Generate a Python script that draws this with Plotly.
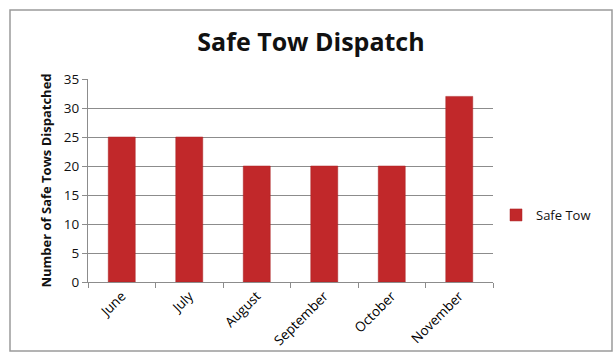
import plotly.graph_objects as go

months = ["June", "July", "August", "September", "October", "November"]
safe_tow = [25, 25, 20, 20, 20, 32]
y_ticks = [0, 5, 10, 15, 20, 25, 30, 35]

W, H = 614, 364
L, R, T, B = 88, 121, 79, 82
pw, ph = W - L - R, H - T - B

def px(x):
    return (x - L) / pw

def py(y):
    return (H - B - y) / ph

fig = go.Figure()
fig.add_trace(go.Bar(
    x=months, y=safe_tow, name="Safe Tow",
    marker=dict(color="#c1282a", line=dict(color="#a82224", width=0.5)),
    width=0.4,
))

fig.update_layout(
    width=W, height=H,
    margin=dict(l=L, r=R, t=T, b=B, autoexpand=False),
    paper_bgcolor="white", plot_bgcolor="white",
    font=dict(family="Open Sans", color="#111111", size=12),
    title=dict(text="<b>Safe Tow Dispatch</b>", x=px(311), xref="paper", xanchor="center",
               y=1 - 42 / H, yanchor="middle", font=dict(size=25, family="Open Sans")),
    showlegend=True,
    legend=dict(x=px(496), y=py(215), xanchor="left", yanchor="middle",
                font=dict(size=13), bgcolor="rgba(0,0,0,0)", itemwidth=30),
    bargap=0.6,
)
fig.update_yaxes(
    range=[0, 35], tickvals=y_ticks, showgrid=True, gridcolor="#8c8c8c", gridwidth=1,
    showline=True, linecolor="#8c8c8c", ticks="outside", ticklen=5, tickcolor="#8c8c8c",
    tickfont=dict(size=13.5), zeroline=False, automargin=False,
    title=dict(text="<b>Number of Safe Tows Dispatched</b>", font=dict(size=13), standoff=9),
)
fig.update_xaxes(
    showline=True, linecolor="#8c8c8c", ticks="outside", ticklen=5, tickcolor="#8c8c8c",
    tickson="boundaries", tickangle=-45, tickfont=dict(size=13.5, color="#000000"), automargin=False,
)
fig.add_shape(type="rect", xref="paper", yref="paper",
              x0=px(10), x1=px(612), y0=py(351), y1=py(10),
              line=dict(color="#9a9a9a", width=1.5), layer="below")

fig.write_html("out.html")
